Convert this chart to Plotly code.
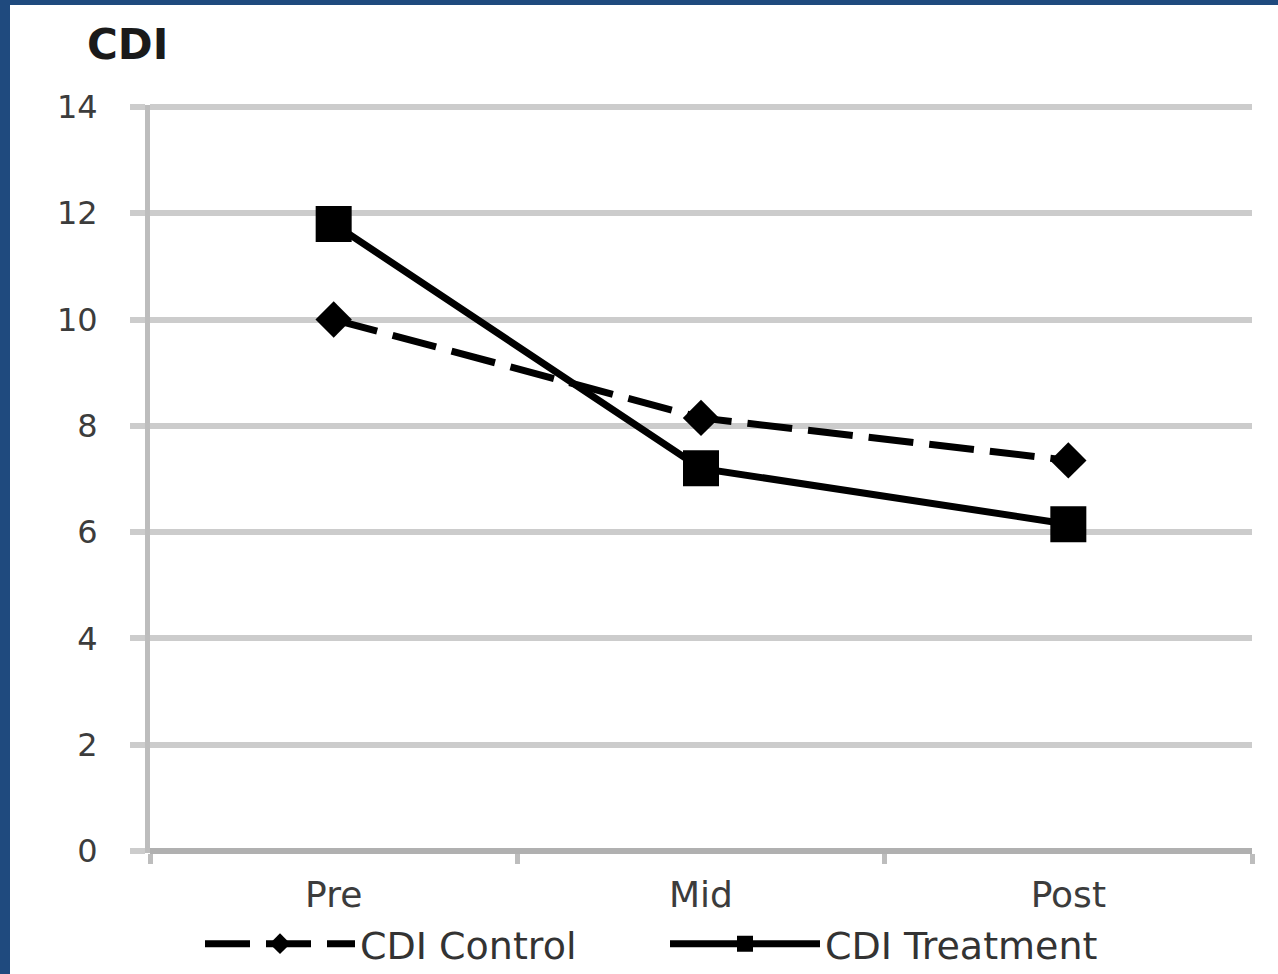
import plotly.graph_objects as go

# Children's Depression Inventory scores across the three assessment points
timepoints = ["Pre", "Mid", "Post"]
cdi_control = [10.0, 8.15, 7.35]
cdi_treatment = [11.8, 7.2, 6.15]
y_ticks = [0, 2, 4, 6, 8, 10, 12, 14]
y_min, y_max = 0, 14

W, H = 1278, 974
# Frame of the value area (0 at y=851 px, 14 at y=107 px)
M_L, M_R, M_T, M_B = 150, 26, 107, 123
PLOT_W = W - M_L - M_R
PLOT_H = H - M_T - M_B
# small headroom so the gridlines at both ends are kept
EDGE = 2
UNIT = PLOT_H / (y_max - y_min)
y_range = [y_min - EDGE / UNIT, y_max + EDGE / UNIT]
PLOT_H_EXT = PLOT_H + 2 * EDGE
M_T_EXT, M_B_EXT = M_T - EDGE, M_B - EDGE


def px_to_paper_x(px):
    return (px - M_L) / PLOT_W


def px_to_paper_y(py):
    return (H - M_B_EXT - py) / PLOT_H_EXT


FONT = "DejaVu Sans"
BORDER = "#1f4a7e"
AXIS_GREY = "#b0b0b0"
GRID_GREY = "#cccccc"

fig = go.Figure()

fig.add_trace(go.Scatter(
    x=timepoints, y=cdi_control, name="CDI Control",
    mode="lines+markers",
    line=dict(color="black", width=7, dash="45px,16px"),
    marker=dict(symbol="diamond", size=28, color="black"),
))
fig.add_trace(go.Scatter(
    x=timepoints, y=cdi_treatment, name="CDI Treatment",
    mode="lines+markers",
    line=dict(color="black", width=7),
    marker=dict(symbol="square", size=36, color="black"),
))

fig.update_layout(
    width=W, height=H,
    margin=dict(l=M_L, r=M_R, t=M_T_EXT, b=M_B_EXT, autoexpand=False),
    paper_bgcolor="white", plot_bgcolor="white",
    font=dict(family=FONT, color="#3c3c3c"),
    showlegend=True,
    legend=dict(
        orientation="h",
        xref="paper", x=px_to_paper_x(200), xanchor="left",
        yref="paper", y=px_to_paper_y(944), yanchor="middle",
        font=dict(size=38, color="#333333", family=FONT),
        itemwidth=150, entrywidth=300, entrywidthmode="pixels",
        traceorder="normal",
        bgcolor="rgba(0,0,0,0)",
    ),
    xaxis=dict(
        type="category", range=[-0.5, 2.5],
        showgrid=False, zeroline=False, showline=False,
        ticks="outside", tickson="boundaries", ticklen=10, tickwidth=5,
        tickcolor="#bdbdbd",
        tickfont=dict(size=36, family=FONT, color="#3c3c3c"),
        ticklabelstandoff=17,
    ),
    yaxis=dict(
        range=y_range, tickvals=y_ticks,
        showgrid=True, gridcolor=GRID_GREY, gridwidth=6,
        zeroline=True, zerolinecolor=AXIS_GREY, zerolinewidth=6,
        showline=True, linecolor="#bdbdbd", linewidth=5,
        ticks="outside", ticklen=15, tickwidth=6, tickcolor=GRID_GREY,
        tickfont=dict(size=32, family=FONT, color="#3c3c3c"),
        ticklabelstandoff=26,
    ),
)

# Axis caption above the value axis
fig.add_annotation(
    text="<b>CDI</b>", xref="paper", yref="paper",
    x=px_to_paper_x(127), y=px_to_paper_y(44),
    xanchor="center", yanchor="middle", showarrow=False,
    font=dict(size=42, family=FONT, color="#1a1a1a"),
)

# Dark blue frame along the left and top edges
fig.add_shape(type="rect", xref="paper", yref="paper", layer="above",
              x0=px_to_paper_x(-20), x1=px_to_paper_x(10),
              y0=px_to_paper_y(H + 60), y1=px_to_paper_y(-20),
              fillcolor=BORDER, line=dict(width=0))
fig.add_shape(type="rect", xref="paper", yref="paper", layer="above",
              x0=px_to_paper_x(-20), x1=px_to_paper_x(W + 40),
              y0=px_to_paper_y(5), y1=px_to_paper_y(-20),
              fillcolor=BORDER, line=dict(width=0))

fig.write_html("out.html")
